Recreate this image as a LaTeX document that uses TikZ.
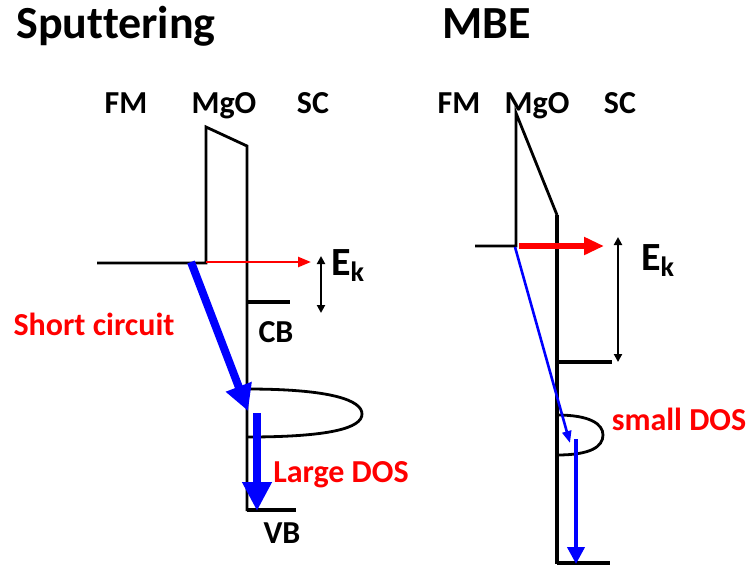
\documentclass[tikz,border=0pt]{standalone}
\usepackage{fontspec}
\setmainfont[Ligatures=NoCommon]{Carlito}
\usetikzlibrary{arrows.meta}
\begin{document}
\begin{tikzpicture}[x=1pt,y=-1pt,
  lbl/.style={font=\fontsize{32}{36}\selectfont\bfseries, inner sep=0pt, anchor=base},
  ttl/.style={font=\fontsize{46}{50}\selectfont\bfseries, inner sep=0pt, anchor=base},
  red lbl/.style={lbl, text=red},
  band/.style={line width=3.2pt, black},
  thinband/.style={line width=2.8pt, black},
  ekarrow/.style={line width=2pt, black, {Triangle[length=8pt,width=8pt]}-{Triangle[length=8pt,width=8pt]}},
]
\useasboundingbox (0,0) rectangle (752,566);

% ---------------- Sputtering ----------------
\node[ttl] (t1) at (116,38) {Sputtering};
\node[lbl] (fm1) at (126,113) {FM};
\node[lbl] (mgo1) at (224,113) {MgO};
\node[lbl] (sc1) at (313,113) {SC};

\coordinate (f1a) at (97,263);
\coordinate (f1b) at (206,263);
\coordinate (b1tl) at (206,127);
\coordinate (b1tr) at (247,146);
\coordinate (s1bot) at (247,511);
\draw[thinband] (f1a) -- (f1b) -- (b1tl) -- (b1tr) -- (s1bot);
\coordinate (cb1a) at (247,302);
\coordinate (cb1b) at (290,302);
\draw[band] (cb1a) -- (cb1b);
\coordinate (vb1a) at (247,510);
\coordinate (vb1b) at (296,510);
\draw[band] (vb1a) -- (vb1b);

\node[lbl] (cb1) at (276,342) {CB};
\node[lbl] (vb1) at (282,543) {VB};

% DOS
\coordinate (d1t) at (247,389);
\coordinate (d1r) at (362,414);
\coordinate (d1b) at (247,437);
\draw[line width=2.8pt] (d1t) .. controls (330,389) and (362,400) .. (d1r)
  .. controls (362,428) and (330,437) .. (d1b);

% red arrow
\coordinate (r1s) at (206,262);
\coordinate (r1e) at (311,262);
\draw[red, line width=2.4pt, -{Triangle[length=13pt,width=10pt]}] (r1s) -- (r1e);

% Ek
\coordinate (ek1t) at (321,256);
\coordinate (ek1b) at (321,313);
\draw[ekarrow] (ek1t) -- (ek1b);
\node[inner sep=0pt, anchor=base west] (ek1) at (331,275) {\fontsize{40}{44}\selectfont\bfseries E\raisebox{-0.35ex}{\fontsize{28}{30}\selectfont k}};

% blue arrows
\coordinate (bl1s) at (191,262);
\coordinate (bl1e) at (248,411);
\draw[blue, line width=8pt, -{Triangle[length=26pt,width=26pt]}] (bl1s) -- (bl1e);
\coordinate (bv1s) at (257,413);
\coordinate (bv1e) at (257,511);
\draw[blue, line width=8pt, -{Triangle[length=29pt,width=28pt]}] (bv1s) -- (bv1e);

\node[red lbl] (sc) at (94,335) {Short circuit};
\node[red lbl] (ld) at (341,482) {Large DOS};

% ---------------- MBE ----------------
\node[ttl] (t2) at (487,38) {MBE};
\node[lbl] (fm2) at (459,113) {FM};
\node[lbl] (mgo2) at (537,113) {MgO};
\node[lbl] (sc2) at (620,113) {SC};

\coordinate (f2a) at (475,246);
\coordinate (f2b) at (516,246);
\coordinate (b2tl) at (516,113);
\coordinate (b2tr) at (557,215);
\coordinate (s2bot) at (557,564);
\draw[thinband] (f2a) -- (f2b) -- (b2tl) -- (b2tr);
\draw[band] (b2tr) -- (s2bot);
\coordinate (cb2a) at (557,362);
\coordinate (cb2b) at (612,362);
\draw[band] (cb2a) -- (cb2b);
\coordinate (vb2a) at (557,563);
\coordinate (vb2b) at (610,563);
\draw[band] (vb2a) -- (vb2b);

% DOS small
\coordinate (d2t) at (557,415);
\coordinate (d2r) at (603,435);
\coordinate (d2b) at (557,455);
\draw[line width=2.8pt] (d2t) .. controls (590,415) and (603,424) .. (d2r)
  .. controls (603,447) and (590,455) .. (d2b);

% red thick arrow
\coordinate (r2s) at (519,246);
\coordinate (r2e) at (604,246);
\draw[red, line width=6pt, -{Triangle[length=20pt,width=17pt]}] (r2s) -- (r2e);

% Ek
\coordinate (ek2t) at (618,237);
\coordinate (ek2b) at (618,362);
\draw[ekarrow] (ek2t) -- (ek2b);
\node[inner sep=0pt, anchor=base west] (ek2) at (641,270) {\fontsize{40}{44}\selectfont\bfseries E\raisebox{-0.35ex}{\fontsize{28}{30}\selectfont k}};

% blue arrows
\coordinate (bl2s) at (515,247);
\coordinate (bl2e) at (570,443);
\draw[blue, line width=2.6pt, -{Triangle[length=12pt,width=9pt]}] (bl2s) -- (bl2e);
\coordinate (bv2s) at (576,439);
\coordinate (bv2e) at (576,564);
\draw[blue, line width=4pt, -{Triangle[length=17pt,width=17pt]}] (bv2s) -- (bv2e);

\node[red lbl] (sd) at (679,430) {small DOS};
\end{tikzpicture}
\end{document}
